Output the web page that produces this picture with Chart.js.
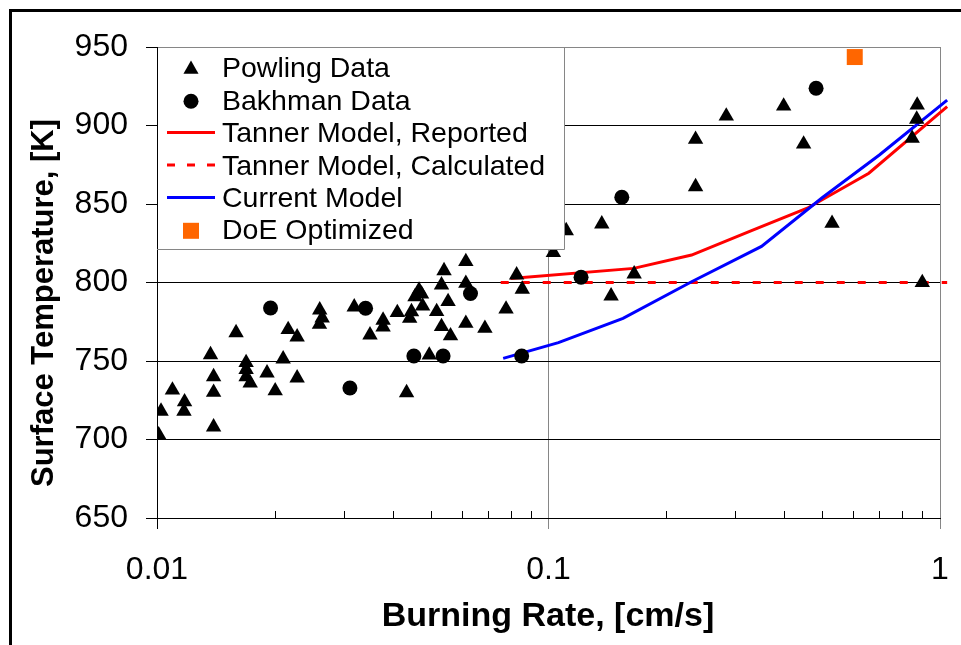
<!DOCTYPE html>
<html>
<head>
<meta charset="utf-8">
<script src="https://cdn.jsdelivr.net/npm/chart.js@4.4.1/dist/chart.umd.min.js"></script>
<style>
  html, body { margin: 0; padding: 0; background: #fff; }
  #wrap { width: 961px; height: 645px; }
</style>
</head>
<body>
<div id="wrap"><canvas id="c" width="961" height="645"></canvas></div>
<script>
// Burning rate [cm/s] and surface temperature [K]
const powlingRate = [0.0101, 0.01024, 0.01095, 0.01176, 0.01172, 0.0137, 0.01395, 0.01395, 0.01395, 0.01592,
  0.01689, 0.01689, 0.01689, 0.0173, 0.0191, 0.02004, 0.021, 0.02163, 0.0228, 0.0228,
  0.02604, 0.02642, 0.026, 0.0319, 0.035, 0.0378, 0.0378, 0.0411, 0.0442, 0.04467,
  0.0434, 0.0456, 0.0467, 0.0474, 0.0477, 0.0496, 0.0518, 0.0533, 0.0533, 0.0541,
  0.0554, 0.0562, 0.0615, 0.0615, 0.0615, 0.0688, 0.0779, 0.0829, 0.0857, 0.1029,
  0.111, 0.1368, 0.1445, 0.1655, 0.2375, 0.2375, 0.2845, 0.3987, 0.4484, 0.530,
  0.8746, 0.872, 0.849, 0.901];
const powlingTemp = [703, 718, 731.5, 724, 718, 754, 740, 730, 708, 768,
  749, 744.6, 740, 736, 742.4, 731, 751.3, 770, 765.3, 739.2,
  782.5, 777.4, 773.3, 784.4, 766.6, 776, 771.7, 780.8, 777.2, 781.4,
  729.8, 790.9, 795.2, 792.6, 785, 753.8, 781.5, 771.9, 798.4, 807.5,
  787.8, 766, 813.3, 799.5, 774, 770.8, 783.1, 804.8, 795.7, 819,
  833, 837.3, 791.4, 805.4, 861, 891.2, 906, 912.4, 888.2, 837.7,
  913, 904, 891.8, 799.9];

const bakhmanRate = [0.0195, 0.0311, 0.0341, 0.0453, 0.0538, 0.0632, 0.0854, 0.1211, 0.1539, 0.4825];
const bakhmanTemp = [783.8, 732.8, 783.6, 753.2, 753.2, 793, 753.2, 803.3, 854.3, 923.7];

const tannerReportedRate = [0.08, 0.165, 0.232, 0.33, 0.458, 0.658, 1.043];
const tannerReportedTemp = [802.5, 809, 817.5, 833, 847.3, 869.6, 912];

const tannerCalcRate = [0.0755, 1.043];
const tannerCalcTemp = [800, 800];

const currentRate = [0.0766, 0.106, 0.155, 0.232, 0.35, 0.5, 0.7, 1.043];
const currentTemp = [751.7, 761.7, 777.2, 800.5, 823, 854, 881.2, 916.2];

const doeRate = [0.6057];
const doeTemp = [943.6];

const seriesNames = ['Powling Data', 'Bakhman Data', 'Tanner Model, Reported',
  'Tanner Model, Calculated', 'Current Model', 'DoE Optimized'];

const xTickValues = [0.01, 0.1, 1];
const xTickLabels = ['0.01', '0.1', '1'];
const yTickValues = [650, 700, 750, 800, 850, 900, 950];

const xTitle = 'Burning Rate, [cm/s]';
const yTitle = 'Surface Temperature, [K]';

const FONT = "'Liberation Sans', Arial, sans-serif";
const GRAY = '#868686';

const pairs = (xs, ys) => xs.map((x, i) => ({ x, y: ys[i] }));

function drawTriangle(ctx, x, y, r) {
  ctx.beginPath();
  ctx.moveTo(x, y - r);
  ctx.lineTo(x + r * Math.sin(2 * Math.PI / 3), y + r / 2);
  ctx.lineTo(x - r * Math.sin(2 * Math.PI / 3), y + r / 2);
  ctx.closePath();
  ctx.fill();
}

const decor = {
  id: 'decor',
  beforeDraw(chart) {
    const ctx = chart.ctx;
    ctx.save();
    ctx.fillStyle = '#fff';
    ctx.fillRect(0, 0, chart.width, chart.height);
    ctx.restore();
  },
  afterDraw(chart) {
    const ctx = chart.ctx;
    const xs = chart.scales.x;
    const area = chart.chartArea;
    ctx.save();

    // minor log ticks along the bottom axis, pointing inward
    ctx.strokeStyle = '#000';
    ctx.lineWidth = 1;
    [0.01, 0.1].forEach(dec => {
      for (let m = 2; m <= 9; m++) {
        const px = Math.round(xs.getPixelForValue(m * dec)) + 0.5;
        ctx.beginPath();
        ctx.moveTo(px, area.bottom);
        ctx.lineTo(px, area.bottom - 7);
        ctx.stroke();
      }
    });

    // legend box
    const lx0 = area.left + 1, ly0 = area.top + 1, lx1 = 564.5, ly1 = 249.5;
    ctx.fillStyle = '#fff';
    ctx.fillRect(lx0, ly0, lx1 - lx0, ly1 - ly0);
    ctx.strokeStyle = GRAY;
    ctx.beginPath();
    ctx.moveTo(lx1, area.top);
    ctx.lineTo(lx1, ly1);
    ctx.lineTo(area.left, ly1);
    ctx.stroke();

    ctx.font = '28.5px ' + FONT;
    ctx.textAlign = 'left';
    ctx.textBaseline = 'alphabetic';
    seriesNames.forEach((name, i) => {
      const base = 77.3 + 32.4 * i;
      const cy = base - 9.5;
      const mx = 191;
      if (i === 0) {
        ctx.fillStyle = '#000';
        drawTriangle(ctx, mx, cy + 1.5, 8.7);
      } else if (i === 1) {
        ctx.fillStyle = '#000';
        ctx.beginPath();
        ctx.arc(mx, cy + 1, 7.5, 0, Math.PI * 2);
        ctx.fill();
      } else if (i === 5) {
        ctx.fillStyle = '#FF6600';
        ctx.fillRect(mx - 8, cy - 7, 16, 16);
      } else {
        ctx.strokeStyle = i === 4 ? '#0000FF' : '#FF0000';
        ctx.lineWidth = 3;
        ctx.setLineDash(i === 3 ? [8, 12] : []);
        ctx.beginPath();
        ctx.moveTo(167, cy);
        ctx.lineTo(215, cy);
        ctx.stroke();
        ctx.setLineDash([]);
      }
      ctx.fillStyle = '#000';
      ctx.fillText(name, 222, base);
    });

    // axis titles
    ctx.fillStyle = '#000';
    ctx.font = 'bold 34px ' + FONT;
    ctx.textAlign = 'center';
    ctx.fillText(xTitle, 548, 626);
    ctx.save();
    ctx.translate(53, 303);
    ctx.rotate(-Math.PI / 2);
    ctx.font = 'bold 31px ' + FONT;
    ctx.fillText(yTitle, 0, 0);
    ctx.restore();

    // outer frame
    ctx.fillStyle = '#000';
    ctx.fillRect(9, 9, chart.width - 9, 3);
    ctx.fillRect(9, 9, 3, chart.height - 9);
    ctx.restore();
  }
};

new Chart(document.getElementById('c'), {
  type: 'scatter',
  data: {
    datasets: [
      { label: seriesNames[0], data: pairs(powlingRate, powlingTemp), pointStyle: 'triangle',
        pointRadius: 8.9, backgroundColor: '#000', borderColor: '#000', borderWidth: 0, showLine: false },
      { label: seriesNames[1], data: pairs(bakhmanRate, bakhmanTemp), pointStyle: 'circle',
        pointRadius: 7.5, backgroundColor: '#000', borderColor: '#000', borderWidth: 0, showLine: false },
      { label: seriesNames[5], data: pairs(doeRate, doeTemp), pointStyle: 'rect',
        pointRadius: 11.3, backgroundColor: '#FF6600', borderColor: '#FF6600', borderWidth: 0, showLine: false },
      { label: seriesNames[4], data: pairs(currentRate, currentTemp), showLine: true, pointRadius: 0,
        borderColor: '#0000FF', borderWidth: 3, tension: 0, fill: false, clip: 12 },
      { label: seriesNames[2], data: pairs(tannerReportedRate, tannerReportedTemp), showLine: true, pointRadius: 0,
        borderColor: '#FF0000', borderWidth: 3, tension: 0, fill: false, clip: 12 },
      { label: seriesNames[3], data: pairs(tannerCalcRate, tannerCalcTemp), showLine: true, pointRadius: 0,
        borderColor: '#FF0000', borderWidth: 3, borderDash: [8, 13], tension: 0, fill: false, clip: 12 }
    ]
  },
  options: {
    responsive: false,
    devicePixelRatio: 1,
    animation: false,
    events: [],
    layout: { padding: { left: 12, top: 47, right: 21, bottom: 0 } },
    plugins: { legend: { display: false }, tooltip: { enabled: false }, title: { display: false } },
    scales: {
      x: {
        type: 'logarithmic', position: 'bottom', min: 0.01, max: 1,
        afterBuildTicks: s => { s.ticks = xTickValues.map(v => ({ value: v })); },
        afterFit: s => { s.height = 127; s.paddingLeft = 0; s.paddingRight = 0; },
        ticks: {
          autoSkip: false, maxRotation: 0, minRotation: 0, padding: 22, color: '#000',
          font: { family: FONT, size: 32 },
          callback: v => { const i = xTickValues.indexOf(v); return i >= 0 ? xTickLabels[i] : ''; }
        },
        grid: {
          color: c => (c.tick && c.tick.value === 0.01) ? '#000' : GRAY,
          tickColor: c => (c.tick && c.tick.value === 0.01) ? '#000' : GRAY,
          tickLength: 11, lineWidth: 1
        },
        border: { color: '#000', width: 1 },
        title: { display: false }
      },
      y: {
        type: 'linear', min: 650, max: 950,
        afterBuildTicks: s => { s.ticks = yTickValues.map(v => ({ value: v })); },
        afterFit: s => { s.width = 145; s.paddingTop = 0; s.paddingBottom = 0; },
        ticks: { padding: 18, color: '#000', font: { family: FONT, size: 32 } },
        grid: {
          color: c => (c.tick && c.tick.value === 950) ? GRAY : '#000',
          tickColor: '#000', tickLength: 11, lineWidth: 1
        },
        border: { color: '#000', width: 1 },
        title: { display: false }
      }
    }
  },
  plugins: [decor]
});
</script>
</body>
</html>
